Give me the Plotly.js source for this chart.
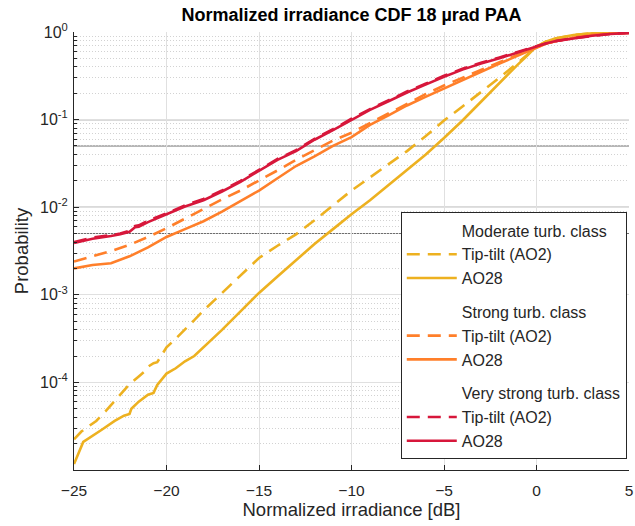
<!DOCTYPE html>
<html>
<head>
<meta charset="utf-8">
<script src="https://cdn.plot.ly/plotly-3.0.1.min.js"></script>
<style>html,body{margin:0;padding:0;background:#fff;}#chart{width:635px;height:526px;}</style>
</head>
<body>
<div id="chart"></div>
<script>
// ---- Data (x in dB, probability values) ----
var modTT_x = [-25,-24.6,-24.2,-23.8,-23.3,-23.0,-22.5,-22.0,-21.5,-21.2,-21.0,-20.7,-20.5,-20.2,-20.0,-19.5,-19.0,-18.5,-18.0,-17.5,-17.0,-16.0,-15.0,-14.0,-13.0,-12.0,-11.0,-10.0,-9.0,-8.0,-7.0,-6.0,-5.0,-4.0,-3.0,-2.0,-1.0,0,0.5,1,2,3,4,5];
var modTT_p = [2.24e-5,2.75e-5,3.16e-5,3.63e-5,4.68e-5,5.5e-5,7.24e-5,9.55e-5,1.17e-4,1.32e-4,1.51e-4,1.66e-4,1.70e-4,2.19e-4,2.51e-4,3.16e-4,3.98e-4,5.13e-4,6.61e-4,8.32e-4,1.05e-3,1.66e-3,2.63e-3,3.63e-3,4.90e-3,7.08e-3,0.0105,0.0155,0.0219,0.0309,0.0437,0.0646,0.0977,0.141,0.209,0.302,0.447,0.676,0.776,0.841,0.923,0.966,0.986,0.993];

var modAO_x = [-25,-24.5,-23.5,-22.8,-22.3,-22.0,-21.9,-21.5,-21.0,-20.7,-20.5,-20.3,-20.0,-19.5,-19.0,-18.5,-18.0,-17.0,-16.0,-15.0,-14.0,-13.0,-12.0,-11.0,-10.0,-9.0,-8.0,-7.0,-6.0,-5.0,-4.0,-3.0,-2.0,-1.0,-0.5,0,0.5,1,2,3,4,5];
var modAO_p = [1.17e-5,2.09e-5,2.88e-5,3.63e-5,4.17e-5,4.37e-5,5.01e-5,6.03e-5,7.24e-5,7.59e-5,9.33e-5,1.05e-4,1.26e-4,1.45e-4,1.74e-4,2.0e-4,2.51e-4,3.98e-4,6.46e-4,1.05e-3,1.62e-3,2.51e-3,3.80e-3,5.62e-3,8.32e-3,0.0120,0.0178,0.0263,0.0398,0.0617,0.0977,0.160,0.263,0.427,0.537,0.684,0.776,0.841,0.923,0.966,0.986,0.993];

var strTT_x = [-25,-24,-23,-22,-21,-20,-19,-18,-17,-16,-15,-14,-13,-12,-11,-10,-9,-8,-7,-6,-5,-4,-3,-2,-1,0,0.5,1,2,3,4,5];
var strTT_p = [0.0024,0.00275,0.00316,0.00372,0.00457,0.00575,0.00741,0.00955,0.0123,0.0155,0.0200,0.0263,0.0347,0.0447,0.0575,0.0708,0.0912,0.117,0.151,0.195,0.245,0.302,0.372,0.452,0.550,0.661,0.733,0.785,0.861,0.923,0.960,0.977];

var strAO_x = [-25,-24,-23,-22,-21,-20,-19,-18,-17,-16,-15,-14,-13,-12,-11,-10,-9,-8,-7,-6,-5,-4,-3,-2,-1,0,0.5,1,2,3,4,5];
var strAO_p = [0.0020,0.00219,0.00229,0.00275,0.00347,0.00457,0.00562,0.00692,0.00891,0.0117,0.0155,0.0214,0.0295,0.0380,0.0501,0.0631,0.0871,0.112,0.145,0.182,0.227,0.282,0.355,0.437,0.537,0.653,0.733,0.785,0.861,0.923,0.960,0.977];

var vsTT_x = [-25,-24,-23,-22.5,-22,-21.7,-21.5,-21,-20,-19,-18,-17,-16,-15,-14,-13,-12,-11,-10,-9,-8,-7,-6,-5,-4,-3,-2,-1,0,0.5,1,2,3,4,5];
var vsTT_p = [0.0040,0.0045,0.0048,0.0050,0.0054,0.0061,0.0062,0.0070,0.0085,0.0105,0.0124,0.0155,0.0200,0.0269,0.0355,0.0447,0.0603,0.0776,0.1023,0.1318,0.166,0.209,0.257,0.316,0.380,0.447,0.513,0.600,0.690,0.741,0.785,0.851,0.906,0.950,0.977];

var vsAO_x = [-25,-24,-23,-22.5,-22,-21.7,-21.5,-21,-20,-19,-18,-17,-16,-15,-14,-13,-12,-11,-10,-9,-8,-7,-6,-5,-4,-3,-2,-1,0,0.5,1,2,3,4,5];
var vsAO_p = [0.0039,0.00437,0.00468,0.0049,0.00525,0.0059,0.0060,0.00676,0.00832,0.0102,0.0120,0.0151,0.0195,0.0263,0.0347,0.0437,0.0589,0.0759,0.100,0.129,0.162,0.204,0.251,0.309,0.372,0.437,0.501,0.589,0.684,0.741,0.785,0.851,0.906,0.950,0.977];

var refLevels = [0.1, 0.05, 0.01, 0.005];
var yTickVals = [1e-4, 1e-3, 1e-2, 1e-1, 1];
var yTickText = ['10<sup>-4</sup>','10<sup>-3</sup>','10<sup>-2</sup>','10<sup>-1</sup>','10<sup>0</sup>'];
var xTickVals = [-25, -20, -15, -10, -5, 0, 5];

var groupNames = ['Moderate turb. class', 'Strong turb. class', 'Very strong turb. class'];
var colors = ['#EDB120', '#FF7F2A', '#D7173B'];
var seriesTT = [[modTT_x, modTT_p], [strTT_x, strTT_p], [vsTT_x, vsTT_p]];
var seriesAO = [[modAO_x, modAO_p], [strAO_x, strAO_p], [vsAO_x, vsAO_p]];

var FONT = 'Liberation Sans, Arial, Helvetica, sans-serif';
var traces = [];
for (var g = 0; g < 3; g++) {
  var grp = 'g' + g;
  traces.push({x:[null], y:[null], mode:'lines', name:groupNames[g], legendgroup: grp,
               line:{color:'rgba(0,0,0,0)', width:0}, hoverinfo:'skip', showlegend:true});
  traces.push({x: seriesTT[g][0], y: seriesTT[g][1], mode:'lines', name:'Tip-tilt (AO2)', legendgroup: grp,
               line:{color: colors[g], width: 2.6, dash:'13px,8px'}});
  traces.push({x: seriesAO[g][0], y: seriesAO[g][1], mode:'lines', name:'AO28', legendgroup: grp,
               line:{color: colors[g], width: 2.6}});
}

var shapes = refLevels.map(function(v){
  return {type:'line', xref:'paper', x0:0, x1:1, yref:'y', y0:v, y1:v, layer:'between',
          line:{color:'#6e6e6e', width:1.1}};
});

var layout = {
  width: 635, height: 526,
  margin: {l:74, r:6, t:32, b:56},
  paper_bgcolor:'#fff', plot_bgcolor:'#fff',
  font: {family: FONT, color:'#262626', size: 15},
  title: {text:'<b>Normalized irradiance CDF 18 µrad PAA</b>', font:{family:FONT, size:18, color:'#000'},
          x: 0.5535, xanchor:'center', y: 0.972, yanchor:'middle'},
  showlegend: true,
  legend: {x: 0.996, xanchor:'right', y: 0.024, yanchor:'bottom', bgcolor:'#fff',
           bordercolor:'#262626', borderwidth: 1, font:{family:FONT, size:16, color:'#262626'},
           tracegroupgap: 10, traceorder:'grouped', itemwidth: 50},
  xaxis: {range:[-25, 5], tickmode:'array', tickvals: xTickVals, ticks:'inside', ticklen:5,
          tickcolor:'#262626', showline:true, linecolor:'#262626', linewidth:1, mirror:false,
          showgrid:true, gridcolor:'#e0e0e0', gridwidth:1, zeroline:false,
          tickfont:{size:15.5}, ticklabelstandoff: 6,
          title:{text:'Normalized irradiance [dB]', font:{size:18.5}, standoff: 5}},
  yaxis: {type:'log', range:[-5, 0], tickmode:'array', tickvals: yTickVals, ticktext: yTickText,
          ticks:'inside', ticklen:5, tickcolor:'#262626', showline:true, linecolor:'#262626', linewidth:1,
          showgrid:true, gridcolor:'#e0e0e0', gridwidth:1, zeroline:false,
          tickfont:{size:16}, ticklabelstandoff: 2,
          minor:{dtick:'D1', showgrid:true, gridcolor:'#d2d2d2', griddash:'1px,2px', gridwidth:1,
                 ticks:'inside', ticklen:3, tickcolor:'#262626'},
          title:{text:'Probability', font:{size:18.5}, standoff: 6}},
  shapes: shapes
};

Plotly.newPlot('chart', traces, layout, {staticPlot:true, displayModeBar:false});
</script>
</body>
</html>
